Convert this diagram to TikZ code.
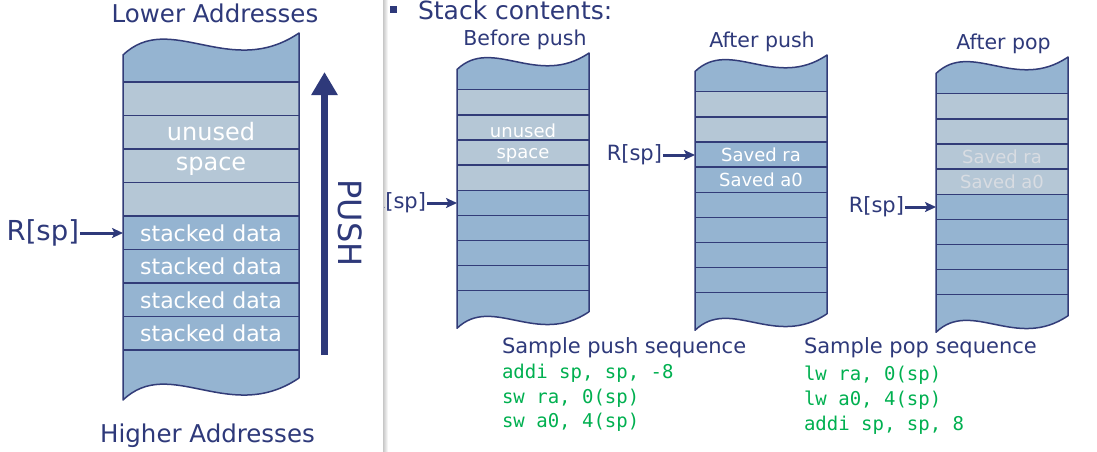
\documentclass[tikz,border=0pt]{standalone}
\usepackage{fontspec}
\setmainfont{DejaVu Sans}
\setmonofont{DejaVu Sans Mono}
\usetikzlibrary{arrows.meta}

\definecolor{navy}{RGB}{46,57,122}
\definecolor{edgeblue}{RGB}{50,60,120}
\definecolor{darkrow}{RGB}{149,180,209}
\definecolor{lightrow}{RGB}{181,199,214}
\definecolor{codegreen}{RGB}{0,176,80}
\definecolor{fadedtext}{RGB}{216,220,226}

%% outline of one stack, local units, top right corner at (176,0)
\newcommand{\stackbody}{(0,22) .. controls (47,-23) and (107,47) .. (176,0)
  -- (176,345) .. controls (107,392) and (47,322) .. (0,367) -- cycle}
%% the nine row lines of one stack
\newcommand{\stackrows}{%
  \draw[rowline] (0,49) -- (176,49);
  \draw[rowline] (0,82.5) -- (176,82.5);
  \draw[rowline] (0,116) -- (176,116);
  \draw[rowline] (0,149.5) -- (176,149.5);
  \draw[rowline] (0,183) -- (176,183);
  \draw[rowline] (0,216.5) -- (176,216.5);
  \draw[rowline] (0,250) -- (176,250);
  \draw[rowline] (0,283.5) -- (176,283.5);
  \draw[rowline] (0,317) -- (176,317);}

\begin{document}
\begin{tikzpicture}[x=1pt,y=-1pt,
  every node/.style={inner sep=0,outer sep=1},
  rowline/.style={edgeblue,line width=1.3pt},
  stackedge/.style={edgeblue,line width=1.5pt,line join=round},
  bigtitle/.style={navy,font=\fontsize{24.5}{28}\selectfont},
  smalltitle/.style={navy,font=\fontsize{20.5}{24}\selectfont},
  bigcell/.style={white,font=\fontsize{22}{26}\selectfont},
  bigunused/.style={white,font=\fontsize{24}{28}\selectfont},
  smallcell/.style={white,font=\fontsize{18}{22}\selectfont},
  fadedcell/.style={fadedtext,font=\fontsize{18}{22}\selectfont},
  spbig/.style={navy,font=\fontsize{27.5}{32}\selectfont},
  spsmall/.style={navy,font=\fontsize{21}{25}\selectfont},
  spar/.style={navy,line width=3pt,-{Stealth[length=11pt,width=10pt,inset=2.5pt]}},
  codeline/.style={codegreen,font=\ttfamily\fontsize{19}{23}\selectfont},
  seqtitle/.style={navy,font=\fontsize{21}{25}\selectfont}]

  \useasboundingbox (0,0) rectangle (1097,451);
  \fill[white] (0,0) rectangle (1097,451);

  %% Left panel: big stack.
  \begin{scope}[shift={(123,33)}]
    \fill[darkrow] \stackbody;
    \fill[lightrow] (0,49) rectangle (176,183);
    \stackrows
    \draw[stackedge] \stackbody;
  \end{scope}
  \node[bigtitle,anchor=base] (lower) at (215,22) {Lower Addresses};
  \node[bigtitle,anchor=base] (higher) at (207.5,442) {Higher Addresses};
  \node[bigunused,anchor=base] (unused) at (211,140) {unused};
  \node[bigunused,anchor=base] (space) at (211,170) {space};
  \node[bigcell] (data1) at (211,233.5) {stacked data};
  \node[bigcell] (data2) at (211,266.5) {stacked data};
  \node[bigcell] (data3) at (211,300) {stacked data};
  \node[bigcell] (data4) at (211,333.5) {stacked data};
  %% R[sp] and PUSH
  \coordinate (sptip) at (123,233);
  \node[spbig,anchor=base east] (sp) at (80,240.5) {R[sp]};
  \draw[spar] (sp.east |- sptip) -- (sptip);
  \coordinate (pushbot) at (324.5,355);
  \coordinate (pushtop) at (324.5,72);
  \draw[navy,line width=7pt,-{Triangle[length=23pt,width=25pt]}] (pushbot) -- (pushtop);
  \node[navy,rotate=-90,font=\fontsize{32}{36}\selectfont] (push) at (350,223) {PUSH};

  %% Separator.
  \shade[left color=black!22,right color=white] (383,0) rectangle (388,451);

  %% Right panel.
  \node[fill=navy,minimum size=7pt,outer sep=0] (bullet) at (393.5,9.5) {};
  \node[navy,anchor=base west,font=\fontsize{25}{30}\selectfont] (contents) at (417,19) {Stack contents:};

  %% Before push.
  \begin{scope}[shift={(457,53)},scale=0.75]
    \fill[darkrow] \stackbody;
    \fill[lightrow] (0,49) rectangle (176,183);
    \stackrows
    \draw[stackedge] \stackbody;
  \end{scope}
  \node[smalltitle,anchor=base] (before) at (525,45) {Before push};
  \node[smallcell,anchor=base] (unusedB) at (523,137) {unused};
  \node[smallcell,anchor=base] (spaceB) at (523,158) {space};
  \begin{scope}
    \clip (384,0) rectangle (1097,451);
    \node[spsmall,anchor=base east] (spB) at (427,208.5) {R[sp]};
  \end{scope}
  \coordinate (spBtip) at (457,203);
  \draw[spar] (spB.east |- spBtip) -- (spBtip);

  %% After push.
  \begin{scope}[shift={(695,55)},scale=0.75]
    \fill[darkrow] \stackbody;
    \fill[lightrow] (0,49) rectangle (176,116);
    \stackrows
    \draw[stackedge] \stackbody;
  \end{scope}
  \node[smalltitle,anchor=base] (afterpush) at (762,47) {After push};
  \node[smallcell] (raA) at (761,154.5) {Saved ra};
  \node[smallcell] (a0A) at (761,179.5) {Saved a0};
  \coordinate (spAtip) at (695,155);
  \node[spsmall,anchor=base east] (spA) at (663,160.5) {R[sp]};
  \draw[spar] (spA.east |- spAtip) -- (spAtip);

  %% After pop.
  \begin{scope}[shift={(936,57)},scale=0.75]
    \fill[darkrow] \stackbody;
    \fill[lightrow] (0,49) rectangle (176,183);
    \stackrows
    \draw[stackedge] \stackbody;
  \end{scope}
  \node[smalltitle,anchor=base] (afterpop) at (1003.5,49) {After pop};
  \node[fadedcell] (raP) at (1002,156.5) {Saved ra};
  \node[fadedcell] (a0P) at (1002,181.5) {Saved a0};
  \coordinate (spPtip) at (936,207);
  \node[spsmall,anchor=base east] (spP) at (905,212.5) {R[sp]};
  \draw[spar] (spP.east |- spPtip) -- (spPtip);

  %% Sample sequences.
  \node[seqtitle,anchor=base west] (pushseq) at (501,353) {Sample push sequence};
  \node[codeline,anchor=base west] (push1) at (501,378) {addi sp, sp, -8};
  \node[codeline,anchor=base west] (push2) at (501,403) {sw ra, 0(sp)};
  \node[codeline,anchor=base west] (push3) at (501,427) {sw a0, 4(sp)};

  \node[seqtitle,anchor=base west] (popseq) at (803,353) {Sample pop sequence};
  \node[codeline,anchor=base west] (pop1) at (803,380) {lw ra, 0(sp)};
  \node[codeline,anchor=base west] (pop2) at (803,405) {lw a0, 4(sp)};
  \node[codeline,anchor=base west] (pop3) at (803,430) {addi sp, sp, 8};
\end{tikzpicture}
\end{document}
